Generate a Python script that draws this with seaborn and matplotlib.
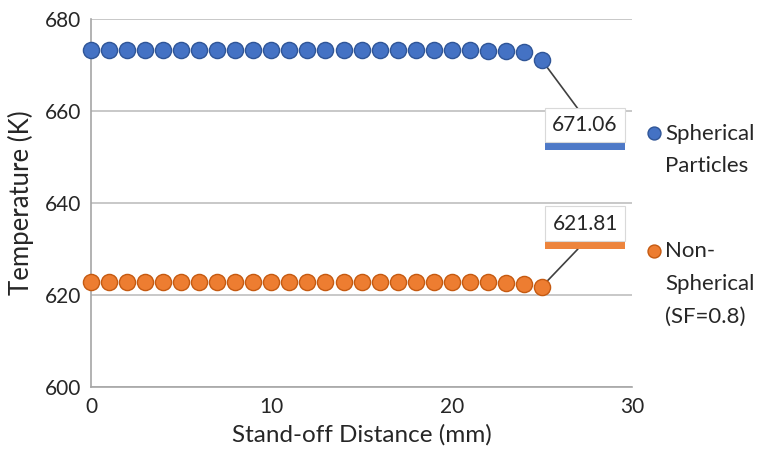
import numpy as np
import pandas as pd
import matplotlib
matplotlib.use('Agg')
import matplotlib.pyplot as plt
import matplotlib.patheffects as pe
import seaborn as sns

# Datos
distancia = list(range(0, 26))
temp_esferica = [673.2] * 22 + [673.1, 673.0, 672.8, 671.06]
temp_no_esferica = [622.9] * 22 + [622.8, 622.7, 622.5, 621.81]
series = ['Spherical\nParticles', 'Non-\nSpherical\n(SF=0.8)']
colores = ['#4472C4', '#ED7D31']
bordes = ['#2F5597', '#C55A11']

df = pd.DataFrame({
    'Stand-off Distance (mm)': distancia * 2,
    'Temperature (K)': temp_esferica + temp_no_esferica,
    'Serie': [series[0]] * len(distancia) + [series[1]] * len(distancia),
})

sns.set_style('white')
plt.rcParams['font.family'] = ['Lato', 'DejaVu Sans']

fig = plt.figure(figsize=(7.66, 4.63), dpi=100)
ax = fig.add_axes([0.119, 0.164, 0.706, 0.795])

for serie, col, borde in zip(series, colores, bordes):
    sub = df[df['Serie'] == serie]
    sns.scatterplot(data=sub, x='Stand-off Distance (mm)', y='Temperature (K)',
                    color=col, edgecolor=borde, linewidth=1.0, s=135,
                    label=serie, ax=ax, zorder=3, clip_on=False)

ax.set_xlim(0, 30)
ax.set_ylim(600, 680)
ax.set_xticks([0, 10, 20, 30])
ax.set_yticks([600, 620, 640, 660, 680])
ax.yaxis.grid(True, color='#BFBFBF', linewidth=1.2)
ax.xaxis.grid(False)
for lado in ['top', 'right']:
    ax.spines[lado].set_visible(False)
for lado in ['left', 'bottom']:
    ax.spines[lado].set_color('#A6A6A6')
    ax.spines[lado].set_linewidth(1.2)
ax.tick_params(axis='both', length=0, labelsize=15, colors='#262626', pad=7)
ax.set_xlabel('Stand-off Distance (mm)', fontsize=17.5, color='#262626', labelpad=5)
ax.set_ylabel('Temperature (K)', fontsize=18.5, color='#262626', labelpad=8)

# Etiquetas de datos con sombra de color
etiquetas = [(temp_esferica[-1], colores[0], 27.4, 657.0, 660.5),
             (temp_no_esferica[-1], colores[1], 27.4, 635.5, 630.0)]
for valor, col, tx, ty, ly in etiquetas:
    ax.annotate('', xy=(distancia[-1], valor), xytext=(tx - 0.4, ly),
                arrowprops=dict(arrowstyle='-', color='#404040', lw=1.2,
                                shrinkA=0, shrinkB=0), zorder=2)
    t = ax.text(tx, ty, f'{valor:.2f}', fontsize=15, color='#262626',
                ha='center', va='center', zorder=5,
                bbox=dict(boxstyle='square,pad=0.35', facecolor='white',
                          edgecolor='#D9D9D9', lw=0.8))
    t.get_bbox_patch().set_path_effects([
        pe.SimplePatchShadow(offset=(0, -6), shadow_rgbFace=col, alpha=0.95),
        pe.Normal()])

leg = ax.legend(loc='center left', bbox_to_anchor=(1.01, 0.44), frameon=False,
                fontsize=16, handletextpad=0.15, labelspacing=2.9, markerscale=0.8,
                handlelength=0.7, borderaxespad=0)
for t in leg.get_texts():
    t.set_color('#262626')
    t.set_linespacing(1.8)
# marcador alineado con la primera linea de cada etiqueta
for columna in leg._legend_handle_box.get_children():
    for item in columna.get_children():
        item.align = 'top'

fig.savefig('out.png', dpi=100)
